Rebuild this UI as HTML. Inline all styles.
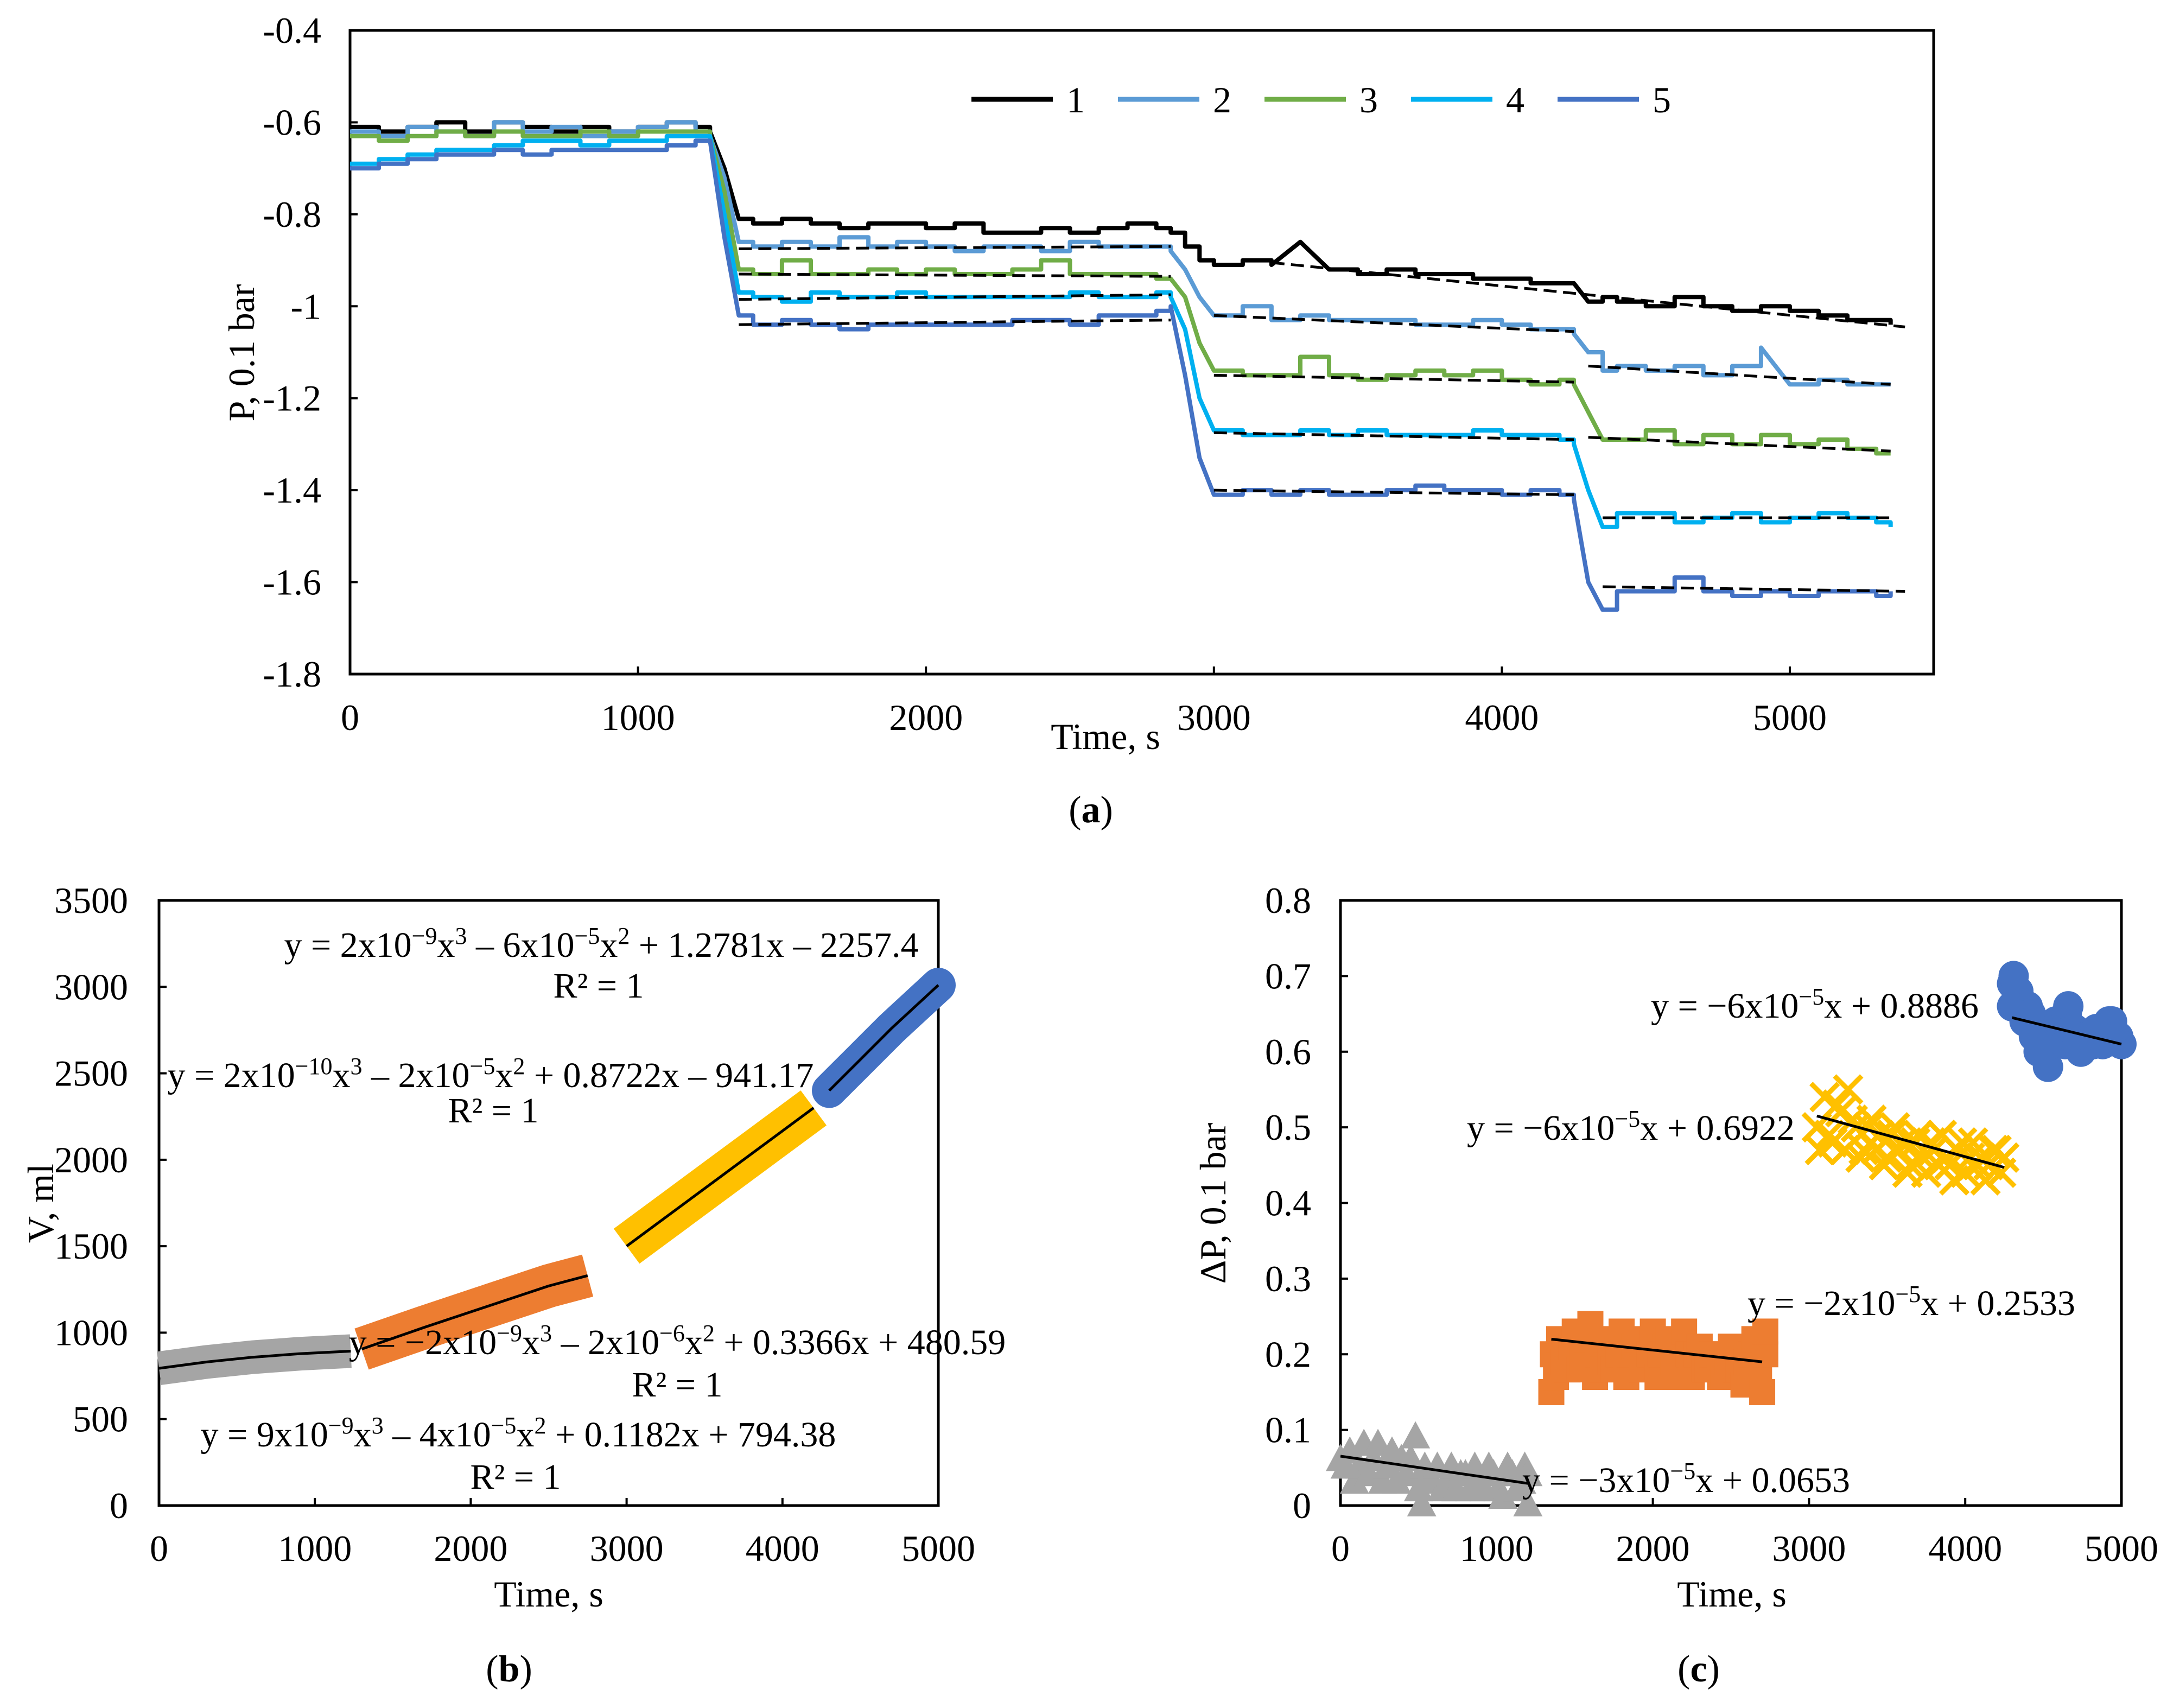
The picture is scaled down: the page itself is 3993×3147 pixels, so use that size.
<!DOCTYPE html>
<html><head><meta charset="utf-8"><style>
html,body{margin:0;padding:0;background:#fff}
svg{display:block;font-family:"Liberation Serif",serif}
</style></head><body>
<svg id="fig" width="3993" height="3147" viewBox="0 0 3993 3147" xmlns="http://www.w3.org/2000/svg">
<g id="pa"></g>
<g id="pb"></g>
<g id="pc"></g>
<text x="2010" y="1515" font-size="70" text-anchor="middle">(<tspan font-weight="bold">a</tspan>)</text>
<text x="938" y="3098" font-size="70" text-anchor="middle">(<tspan font-weight="bold">b</tspan>)</text>
<text x="3130" y="3098" font-size="70" text-anchor="middle">(<tspan font-weight="bold">c</tspan>)</text>
</svg>
<script>
// ---------- chart a data ----------
const aTimes=[0,100,200,300,400,500,600,700,800,900,1000,1100,1200,1250,1300,1350,1400,1500,1600,1700,1800,1900,2000,2100,2200,2300,2400,2500,2600,2700,2800,2850,2900,2950,3000,3100,3200,3300,3400,3500,3600,3700,3800,3900,4000,4100,4200,4250,4300,4350,4400,4500,4600,4700,4800,4900,5000,5100,5200,5300,5350];
const s1=[-0.61,-0.62,-0.61,-0.60,-0.62,-0.60,-0.61,-0.62,-0.61,-0.62,-0.61,-0.60,-0.61,-0.62,-0.70,-0.81,-0.82,-0.81,-0.82,-0.83,-0.82,-0.82,-0.83,-0.82,-0.84,-0.84,-0.83,-0.84,-0.83,-0.82,-0.83,-0.84,-0.87,-0.90,-0.91,-0.90,-0.91,-0.86,-0.92,-0.93,-0.92,-0.93,-0.93,-0.94,-0.94,-0.95,-0.95,-0.95,-0.99,-0.98,-0.99,-1.0,-0.98,-1.0,-1.01,-1.0,-1.01,-1.02,-1.03,-1.03,-1.04];
const s2=[-0.62,-0.63,-0.61,-0.62,-0.63,-0.60,-0.62,-0.61,-0.63,-0.62,-0.61,-0.60,-0.62,-0.63,-0.72,-0.86,-0.87,-0.86,-0.87,-0.85,-0.87,-0.86,-0.87,-0.88,-0.87,-0.87,-0.88,-0.86,-0.87,-0.87,-0.87,-0.88,-0.92,-0.98,-1.02,-1.0,-1.03,-1.02,-1.03,-1.03,-1.03,-1.04,-1.04,-1.03,-1.04,-1.05,-1.05,-1.06,-1.10,-1.14,-1.13,-1.14,-1.13,-1.15,-1.13,-1.09,-1.17,-1.16,-1.17,-1.17,-1.17];
const s3=[-0.63,-0.64,-0.63,-0.62,-0.63,-0.62,-0.63,-0.63,-0.62,-0.63,-0.62,-0.62,-0.62,-0.63,-0.75,-0.92,-0.93,-0.90,-0.93,-0.93,-0.92,-0.93,-0.92,-0.93,-0.93,-0.92,-0.90,-0.93,-0.93,-0.93,-0.94,-0.94,-0.98,-1.08,-1.14,-1.15,-1.15,-1.11,-1.15,-1.16,-1.15,-1.14,-1.15,-1.14,-1.16,-1.17,-1.16,-1.17,-1.23,-1.29,-1.29,-1.27,-1.30,-1.28,-1.30,-1.28,-1.30,-1.29,-1.31,-1.32,-1.32];
const s4=[-0.69,-0.68,-0.67,-0.66,-0.66,-0.65,-0.64,-0.64,-0.65,-0.64,-0.64,-0.63,-0.63,-0.63,-0.80,-0.97,-0.98,-0.99,-0.97,-0.98,-0.98,-0.97,-0.98,-0.98,-0.98,-0.98,-0.98,-0.97,-0.98,-0.98,-0.97,-0.98,-1.05,-1.20,-1.27,-1.28,-1.28,-1.27,-1.28,-1.27,-1.28,-1.28,-1.28,-1.27,-1.28,-1.28,-1.29,-1.30,-1.40,-1.48,-1.45,-1.45,-1.47,-1.46,-1.45,-1.47,-1.46,-1.45,-1.46,-1.47,-1.48];
const s5=[-0.70,-0.69,-0.68,-0.67,-0.67,-0.66,-0.67,-0.66,-0.66,-0.66,-0.66,-0.65,-0.64,-0.64,-0.85,-1.02,-1.04,-1.03,-1.04,-1.05,-1.04,-1.04,-1.04,-1.04,-1.04,-1.03,-1.03,-1.04,-1.02,-1.02,-1.01,-1.00,-1.15,-1.33,-1.41,-1.40,-1.41,-1.40,-1.41,-1.41,-1.40,-1.39,-1.40,-1.40,-1.41,-1.40,-1.41,-1.42,-1.60,-1.66,-1.62,-1.62,-1.59,-1.62,-1.63,-1.62,-1.63,-1.62,-1.62,-1.63,-1.62];
const aColors=["#000000","#5b9bd5","#70ad47","#00b0f0","#4472c4"];
const aLegend=["1","2","3","4","5"];
const trendX0=[1350,1350,1350,1350,3000,3000,3000,3000,3200,4300,4300,4350,4350];
const trendX1=[2850,2850,2850,2850,4250,4250,4250,4250,5400,5350,5350,5350,5400];
const trendY0=[-0.875,-0.93,-0.985,-1.04,-1.02,-1.15,-1.275,-1.40,-0.905,-1.13,-1.285,-1.46,-1.61];
const trendY1=[-0.87,-0.935,-0.975,-1.03,-1.055,-1.165,-1.29,-1.41,-1.045,-1.17,-1.315,-1.46,-1.62];
const aYTicks=[-0.4,-0.6,-0.8,-1,-1.2,-1.4,-1.6,-1.8];
const aXTicks=[0,1000,2000,3000,4000,5000];
// ---------- chart b data ----------
const bGrayX=[0,300,600,900,1230], bGrayY=[794,830,858,878,893];
const bOrangeX=[1300,1700,2100,2500,2750], bOrangeY=[905,1030,1150,1270,1330];
const bYellowX=[3000,3300,3600,3900,4200], bYellowY=[1500,1700,1900,2100,2300];
const bBlueX=[4300,4500,4700,5000], bBlueY=[2400,2580,2760,3010];
const bYTicks=[0,500,1000,1500,2000,2500,3000,3500];
const bXTicks=[0,1000,2000,3000,4000,5000];
// ---------- chart c data ----------
const cGrayX=[0,30,60,90,120,150,180,210,240,270,300,330,360,390,420,450,480,500,520,540,560,590,620,650,680,710,740,770,800,830,860,890,920,950,980,1010,1040,1070,1100,1130,1160,1180,1200,1200];
const cGrayY=[0.06,0.05,0.07,0.03,0.05,0.08,0.04,0.06,0.08,0.03,0.05,0.07,0.03,0.06,0.04,0.06,0.09,0.02,0.0,0.05,0.04,0.03,0.05,0.02,0.03,0.05,0.02,0.04,0.04,0.02,0.05,0.03,0.02,0.05,0.04,0.02,0.01,0.05,0.04,0.02,0.03,0.05,0.0,0.04];
const cOrangeX=[1350,1360,1380,1400,1430,1450,1480,1500,1530,1550,1580,1600,1630,1650,1680,1700,1730,1750,1780,1800,1830,1850,1880,1900,1930,1950,1980,2000,2030,2050,2080,2100,2130,2150,2180,2200,2230,2250,2280,2300,2330,2350,2380,2400,2430,2450,2480,2500,2530,2550,2580,2600,2630,2650,2680,2700,2720,2720];
const cOrangeY=[0.15,0.2,0.17,0.22,0.19,0.18,0.21,0.23,0.18,0.19,0.22,0.24,0.17,0.2,0.18,0.22,0.19,0.18,0.2,0.23,0.17,0.2,0.21,0.22,0.18,0.18,0.2,0.23,0.17,0.2,0.21,0.22,0.19,0.19,0.17,0.23,0.2,0.17,0.2,0.21,0.18,0.18,0.2,0.2,0.17,0.17,0.19,0.21,0.18,0.18,0.16,0.19,0.2,0.22,0.17,0.15,0.2,0.23];
const cYellowX=[3050,3070,3100,3130,3150,3180,3200,3230,3250,3280,3300,3330,3350,3380,3400,3430,3450,3480,3500,3530,3550,3580,3600,3630,3650,3680,3700,3730,3750,3780,3800,3830,3850,3880,3900,3930,3950,3980,4000,4030,4050,4080,4100,4130,4150,4180,4200,4230,4250];
const cYellowY=[0.50,0.47,0.54,0.49,0.48,0.53,0.52,0.47,0.55,0.51,0.50,0.46,0.47,0.50,0.51,0.47,0.49,0.45,0.46,0.49,0.50,0.47,0.48,0.44,0.45,0.48,0.49,0.46,0.44,0.48,0.47,0.45,0.49,0.46,0.45,0.43,0.47,0.48,0.44,0.46,0.48,0.45,0.46,0.43,0.45,0.47,0.47,0.44,0.46];
const cBlueX=[4300,4300,4310,4330,4340,4360,4380,4400,4420,4440,4450,4470,4500,4520,4530,4550,4560,4580,4600,4620,4640,4650,4660,4680,4700,4720,4740,4760,4780,4800,4820,4840,4860,4880,4900,4920,4940,4960,4980,5000];
const cBlueY=[0.69,0.66,0.70,0.67,0.68,0.66,0.64,0.66,0.65,0.62,0.63,0.60,0.60,0.62,0.58,0.61,0.62,0.64,0.64,0.62,0.61,0.65,0.66,0.63,0.63,0.61,0.60,0.62,0.62,0.61,0.61,0.63,0.63,0.61,0.62,0.64,0.64,0.62,0.62,0.61];
const cFitX0=[0,1350,3050,4300], cFitX1=[1200,2700,4250,5000];
const cFitY0=[0.0653,0.22,0.515,0.645], cFitY1=[0.0293,0.19,0.447,0.61];
const cYTicks=[0,0.1,0.2,0.3,0.4,0.5,0.6,0.7,0.8];
const cXTicks=[0,1000,2000,3000,4000,5000];

const NS="http://www.w3.org/2000/svg";
const FS=68, EQ=66;
function mk(parent,tag,attrs){const e=document.createElementNS(NS,tag);for(const k in attrs)e.setAttribute(k,attrs[k]);parent.appendChild(e);return e;}
function txt(parent,x,y,s,size,anchor){const e=mk(parent,'text',{x:x,y:y,'font-size':size,'text-anchor':anchor||'middle'});e.innerHTML=s;return e;}

// ===== chart a =====
const A=document.getElementById('pa');
const aL=645,aR=3563,aT=56,aB=1242;
const axX=v=>aL+v*(3298-645)/5000;
const axY=v=>aT+(v-(-0.4))/(-1.8-(-0.4))*(aB-aT);
let fa=mk(A,'rect',{x:aL,y:aT,width:aR-aL,height:aB-aT,fill:'none',stroke:'#000','stroke-width':5});


aYTicks.forEach(v=>{let t=txt(A,592,axY(v)+23,String(v),FS,'end');mk(A,'line',{x1:aL,x2:aL+14,y1:axY(v),y2:axY(v),stroke:'#000','stroke-width':4});});
aXTicks.forEach(v=>{let t=txt(A,axX(v),1345,String(v),FS);mk(A,'line',{x1:axX(v),x2:axX(v),y1:aB,y2:aB-14,stroke:'#000','stroke-width':4});});
let xa=txt(A,2037,1380,'Time, s',FS);
let ya=txt(A,0,0,'P, 0.1 bar',FS);ya.setAttribute('transform','translate(468,650) rotate(-90)');
[s1,s2,s3,s4,s5].forEach((s,i)=>{
  let d='M'+axX(aTimes[0]).toFixed(1)+' '+axY(s[0]).toFixed(1);
  for(let j=1;j<aTimes.length;j++){
    const steep=Math.abs(s[j]-s[j-1])>0.04;
    if(steep) d+=' L'+axX(aTimes[j]).toFixed(1)+' '+axY(s[j]).toFixed(1);
    else d+=' H'+axX(aTimes[j]).toFixed(1)+' V'+axY(s[j]).toFixed(1);
  }
  let p=mk(A,'path',{d:d,fill:'none',stroke:aColors[i],'stroke-width':8,'stroke-linejoin':'round'});
  
  
});
trendX0.forEach((x0,i)=>{
  let l=mk(A,'line',{x1:axX(x0),x2:axX(trendX1[i]),y1:axY(trendY0[i]),y2:axY(trendY1[i]),stroke:'#000','stroke-width':5,'stroke-dasharray':'24 12'});
  
  
});
aLegend.forEach((n,i)=>{
  const x=1790+i*270;
  let g=mk(A,'g',{});
  
  
  mk(g,'line',{x1:x,x2:x+150,y1:183,y2:183,stroke:aColors[i],'stroke-width':9});
  txt(g,x+192,207,n,FS);
});

// ===== chart b =====
const B=document.getElementById('pb');
const bL=293,bR=1729,bT=1659,bB=2774;
const bx=v=>bL+v/5000*(bR-bL);
const by=v=>bB-v/3500*(bB-bT);
let fb=mk(B,'rect',{x:bL,y:bT,width:bR-bL,height:bB-bT,fill:'none',stroke:'#000','stroke-width':5});


bYTicks.forEach(v=>{let t=txt(B,236,by(v)+23,String(v),FS,'end');mk(B,'line',{x1:bL,x2:bL+14,y1:by(v),y2:by(v),stroke:'#000','stroke-width':4});});
bXTicks.forEach(v=>{let t=txt(B,bx(v),2876,String(v),FS);mk(B,'line',{x1:bx(v),x2:bx(v),y1:bB,y2:bB-14,stroke:'#000','stroke-width':4});});
let xb=txt(B,1011,2960,'Time, s',FS);
let yb=txt(B,0,0,'V, ml',FS);yb.setAttribute('transform','translate(98,2217) rotate(-90)');
[[bGrayX,bGrayY,'#a5a5a5',62,'butt','band-gray'],[bOrangeX,bOrangeY,'#ed7d31',80,'butt','band-orange'],[bYellowX,bYellowY,'#ffc000',80,'butt','band-yellow'],[bBlueX,bBlueY,'#4472c4',64,'round','band-blue']].forEach(([X,Y,c,w,cap,name])=>{
  let d=X.map((x,j)=>(j?'L':'M')+bx(x).toFixed(1)+' '+by(Y[j]).toFixed(1)).join(' ');
  let p=mk(B,'path',{d:d,fill:'none',stroke:c,'stroke-width':w,'stroke-linecap':cap,'stroke-linejoin':'round'});
  
  
  let f=mk(B,'path',{d:d,fill:'none',stroke:'#000','stroke-width':5});
  
  
});
const sup=s=>`<tspan dy="-24" font-size="44">${s}</tspan><tspan dy="24">`;
const bEq=[[1108,1763,'y = 2x10'+sup('−9')+'x</tspan>'+sup('3')+' – 6x10</tspan>'+sup('−5')+'x</tspan>'+sup('2')+' + 1.2781x – 2257.4</tspan>'],[1103,1838,'R² = 1'],
[904,2003,'y = 2x10'+sup('−10')+'x</tspan>'+sup('3')+' – 2x10</tspan>'+sup('−5')+'x</tspan>'+sup('2')+' + 0.8722x – 941.17</tspan>'],[909,2068,'R² = 1'],
[1248,2495,'y = −2x10'+sup('−9')+'x</tspan>'+sup('3')+' – 2x10</tspan>'+sup('−6')+'x</tspan>'+sup('2')+' + 0.3366x + 480.59</tspan>'],[1248,2573,'R² = 1'],
[955,2665,'y = 9x10'+sup('−9')+'x</tspan>'+sup('3')+' – 4x10</tspan>'+sup('−5')+'x</tspan>'+sup('2')+' + 0.1182x + 794.38</tspan>'],[950,2743,'R² = 1']];
bEq.forEach(([x,y,s])=>{let t=txt(B,x,y,s,EQ);});

// ===== chart c =====
const C=document.getElementById('pc');
const cL=2470,cR=3909,cT=1659,cB=2774;
const cx=v=>cL+v/5000*(cR-cL);
const cy=v=>cB-v/0.8*(cB-cT);
let fc=mk(C,'rect',{x:cL,y:cT,width:cR-cL,height:cB-cT,fill:'none',stroke:'#000','stroke-width':5});


cYTicks.forEach(v=>{let t=txt(C,2416,cy(v)+23,String(v),FS,'end');mk(C,'line',{x1:cL,x2:cL+14,y1:cy(v),y2:cy(v),stroke:'#000','stroke-width':4});});
cXTicks.forEach(v=>{let t=txt(C,cx(v),2876,String(v),FS);mk(C,'line',{x1:cx(v),x2:cx(v),y1:cB,y2:cB-14,stroke:'#000','stroke-width':4});});
let xc=txt(C,3191,2960,'Time, s',FS);
let yc=txt(C,0,0,'ΔP, 0.1 bar',FS);yc.setAttribute('transform','translate(2258,2217) rotate(-90)');
cGrayX.forEach((x,i)=>{const X=cx(x),Y=cy(cGrayY[i]);let m=mk(C,'polygon',{points:`${X},${Y-30} ${X-27},${Y+20} ${X+27},${Y+20}`,fill:'#a5a5a5'});});
cOrangeX.forEach((x,i)=>{const X=cx(x),Y=cy(cOrangeY[i]);let m=mk(C,'rect',{x:X-24,y:Y-24,width:48,height:48,fill:'#ed7d31'});});
cYellowX.forEach((x,i)=>{const X=cx(x),Y=cy(cYellowY[i]);let m=mk(C,'path',{d:`M${X-25} ${Y-25}L${X+25} ${Y+25}M${X+25} ${Y-25}L${X-25} ${Y+25}`,stroke:'#ffc000','stroke-width':9});});
cBlueX.forEach((x,i)=>{const X=cx(x),Y=cy(cBlueY[i]);let m=mk(C,'circle',{cx:X,cy:Y,r:28,fill:'#4472c4'});});
cFitX0.forEach((x0,i)=>{let l=mk(C,'line',{x1:cx(x0),x2:cx(cFitX1[i]),y1:cy(cFitY0[i]),y2:cy(cFitY1[i]),stroke:'#000','stroke-width':5});});
const cEq=[[3344,1875,'y = −6x10'+sup('−5')+'x + 0.8886</tspan>'],[3005,2100,'y = −6x10'+sup('−5')+'x + 0.6922</tspan>'],[3522,2423,'y = −2x10'+sup('−5')+'x + 0.2533</tspan>'],[3107,2749,'y = −3x10'+sup('−5')+'x + 0.0653</tspan>']];
cEq.forEach(([x,y,s])=>{let t=txt(C,x,y,s,EQ);});
</script>
</body></html>
